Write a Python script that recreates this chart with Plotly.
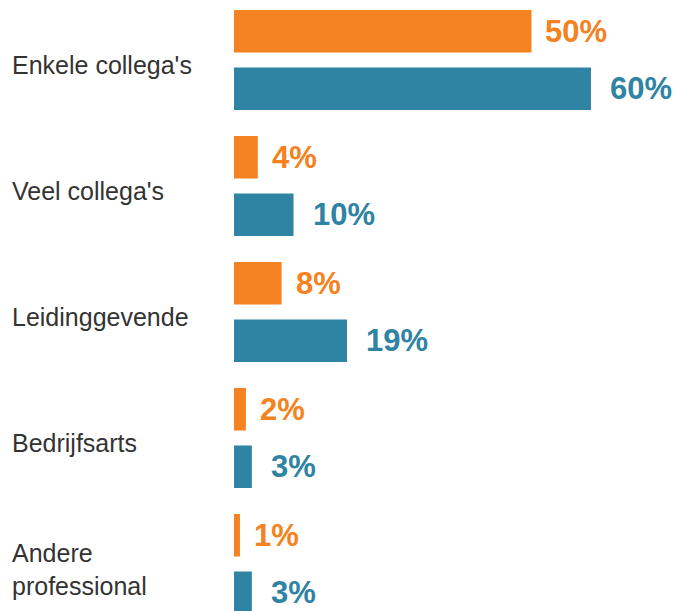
import plotly.graph_objects as go

categories = ["Enkele collega's", "Veel collega's", "Leidinggevende", "Bedrijfsarts", "Andere<br>professional"]
orange_values = [50, 4, 8, 2, 1]
blue_values = [60, 10, 19, 3, 3]

ORANGE = "#F58220"
BLUE = "#2F83A3"
TEXT = "#333333"

fig = go.Figure()
fig.add_trace(go.Bar(y=categories, x=orange_values, orientation="h", marker=dict(color=ORANGE, line=dict(width=0)),
                     hoverinfo="skip", showlegend=False))
fig.add_trace(go.Bar(y=categories, x=blue_values, orientation="h", marker=dict(color=BLUE, line=dict(width=0)),
                     hoverinfo="skip", showlegend=False))

annotations = []
for cat, ov, bv in zip(categories, orange_values, blue_values):
    annotations.append(dict(x=ov, y=cat, xref="x", yref="y", text=f"{ov}%", showarrow=False,
                            xanchor="left", yanchor="middle", xshift=12, yshift=28.75,
                            font=dict(family="Liberation Sans, Arial, sans-serif", size=31, color=ORANGE, weight="bold")))
    annotations.append(dict(x=bv, y=cat, xref="x", yref="y", text=f"{bv}%", showarrow=False,
                            xanchor="left", yanchor="middle", xshift=17, yshift=-28.75,
                            font=dict(family="Liberation Sans, Arial, sans-serif", size=31, color=BLUE, weight="bold")))
    annotations.append(dict(x=0, y=cat, xref="paper", yref="y", text=cat, showarrow=False,
                            xanchor="left", yanchor="middle", xshift=-224, yshift=-5, align="left",
                            font=dict(family="Liberation Sans, Arial, sans-serif", size=25, color=TEXT)))

fig.update_layout(
    width=682, height=611,
    margin=dict(l=234, r=0, t=0, b=0),
    paper_bgcolor="white", plot_bgcolor="white",
    barmode="group", bargap=0.0873, bargroupgap=0.26,
    xaxis=dict(range=[0, 75.3], visible=False, fixedrange=True),
    yaxis=dict(type="category", categoryorder="array", categoryarray=categories,
               range=[4.373, -0.476], showticklabels=False, showgrid=False, zeroline=False,
               showline=False, ticks="", fixedrange=True),
    annotations=annotations,
)

fig.write_html("out.html", config={"displayModeBar": False})
